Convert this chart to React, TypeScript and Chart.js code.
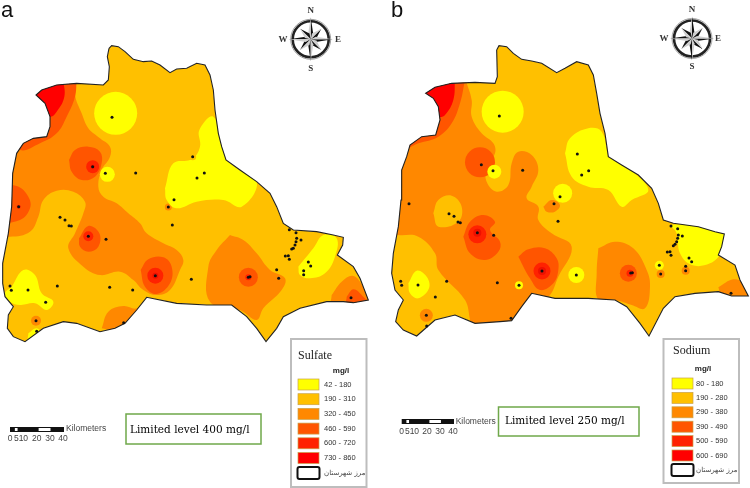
import React, { useEffect, useRef } from "react";
import { Chart, registerables } from "chart.js";

type P = number[];

const YELLOW = "#FFFF00", BASE = "#FFC000", ORANGE = "#FF8800", DEEP = "#FF5500", HOT = "#FF2200", RED = "#FF0000";
const classColors = [YELLOW, BASE, ORANGE, DEEP, HOT, RED];

/* ---------- panel a : sulfate ---------- */
const sulfateClasses = ["42 - 180", "190 - 310", "320 - 450", "460 - 590", "600 - 720", "730 - 860"];
const aBoundary: P[] = [[327,145],[335,137],[355,140],[375,155],[400,178],[430,185],[455,183],[480,195],[510,218],[530,207],[560,205],[590,190],[615,195],[630,225],[640,270],[645,330],[655,400],[665,440],[678,480],[720,510],[770,545],[810,580],[830,620],[850,670],[880,690],[950,695],[1000,705],[1030,712],[1028,735],[1012,765],[1060,800],[1080,835],[1105,900],[1060,908],[1030,905],[980,905],[900,925],[850,950],[830,985],[798,1025],[770,985],[740,950],[695,915],[620,915],[530,910],[440,892],[410,930],[375,970],[345,985],[300,995],[230,970],[190,965],[130,985],[75,1025],[40,1010],[22,985],[25,945],[40,920],[15,890],[8,850],[8,790],[25,700],[35,620],[38,520],[50,460],[70,430],[100,415],[140,410],[150,380],[150,350],[135,310],[108,285],[125,270],[170,255],[230,250],[310,255],[325,240],[328,200],[322,170]];
const aOrangeMain: P[] = [[228,240],[225,285],[245,340],[265,385],[300,415],[330,440],[330,470],[305,510],[295,560],[310,590],[350,610],[385,640],[420,670],[440,700],[490,730],[530,750],[550,780],[540,810],[510,870],[470,885],[430,870],[400,840],[360,815],[300,825],[250,800],[205,745],[225,700],[250,640],[255,605],[220,575],[170,572],[130,600],[115,650],[90,695],[30,710],[-20,700],[-20,400],[100,300]];
const aOrangeSE: P[] = [[690,705],[730,720],[770,760],[810,810],[855,835],[845,870],[790,925],[770,960],[720,930],[630,905],[625,800],[650,750]];
const aOrangeS: P[] = [[305,985],[325,935],[370,918],[410,925],[440,895],[400,1000]];
const aOrangeTip: P[] = [[995,885],[1025,845],[1060,828],[1090,860],[1125,915],[995,930]];
const aDeepNW: P[] = [[230,240],[225,290],[200,350],[170,400],[120,430],[60,450],[30,400],[60,240]];
const aRedNW: P[] = [[190,240],[193,290],[170,335],[150,350],[85,320],[70,240]];
const aDeepHot1: P[] = [[207,480],[225,450],[265,440],[300,455],[305,490],[285,530],[245,540],[215,515]];
const aDeepHot2: P[] = [[237,715],[265,678],[298,700],[295,740],[265,755],[240,740]];
const aDeepHot3: P[] = [[422,810],[445,778],[490,772],[515,800],[510,850],[470,882],[435,860]];
const aDeepW: P[] = [[-10,560],[50,558],[85,590],[90,625],[60,660],[-10,660]];
const aDeepTip: P[] = [[1040,890],[1060,868],[1085,885],[1105,915],[1040,918]];
const aYellowNE: P[] = [[495,565],[520,490],[575,478],[600,440],[598,390],[640,350],[670,440],[690,490],[770,545],[725,620],[670,600],[590,605],[530,625],[500,600]];
const aYellowE: P[] = [[895,800],[940,745],[970,705],[1010,715],[1005,770],[975,820],[930,835],[900,825]];
const aYellowSW: P[] = [[35,860],[70,810],[105,825],[125,880],[160,905],[140,930],[105,910],[60,915],[30,905],[15,880]];
const aYellowS: P[] = [[85,1000],[110,985],[125,1005],[85,1025]];
const aDiscsOrange: P[] = [[108,962,5],[505,621,3.5]];
const aDiscsBase: P[] = [[578,470,3.5]];
const aDiscsYellow: P[] = [[347,340,21.5],[322,523,7.5]];
const aDiscsDeep: P[] = [[745,832,9.5]];
const aDiscsHot: P[] = [[278,500,6.5],[265,709,5],[466,827,8],[745,832,3],[56,620,2]];
const aDiscsRed: P[] = [[466,827,3],[278,500,2]];
const aDots: P[] = [[336,352],[578,470],[613,519],[591,534],[407,519],[316,520],[278,500],[522,599],[505,621],[517,675],[56,620],[180,652],[195,660],[207,677],[214,678],[265,709],[318,718],[868,689],[888,698],[903,720],[890,715],[888,725],[885,735],[880,745],[875,747],[856,768],[865,767],[868,778],[925,786],[932,798],[911,812],[911,824],[830,809],[836,835],[750,830],[745,832],[574,838],[466,827],[30,858],[34,871],[84,870],[172,858],[329,862],[398,870],[137,907],[108,962],[110,994],[371,968],[1053,893]];

/* ---------- panel b : sodium ---------- */
const sodiumClasses = ["80 - 180", "190 - 280", "290 - 380", "390 - 490", "500 - 590", "600 - 690"];
const bBoundary: P[] = [[365,150],[372,137],[395,140],[415,160],[440,178],[470,183],[500,190],[545,218],[570,205],[605,185],[640,195],[655,225],[665,280],[675,340],[690,400],[700,470],[740,495],[790,525],[830,565],[850,610],[865,660],[895,670],[970,680],[1020,695],[1048,702],[1040,740],[1030,765],[1080,795],[1095,840],[1120,888],[1070,888],[1030,875],[960,880],[900,890],[865,925],[822,1008],[795,970],[755,920],[720,900],[640,895],[540,895],[470,880],[440,920],[410,962],[375,965],[300,970],[240,945],[180,960],[125,1008],[85,990],[62,965],[70,930],[85,900],[60,870],[50,820],[55,760],[70,680],[78,600],[80,510],[95,470],[105,435],[140,410],[182,405],[195,360],[190,320],[175,295],[152,280],[180,262],[230,250],[300,247],[360,250],[367,230]];
const bOrangeMain: P[] = [[272,240],[290,300],[290,350],[320,400],[355,430],[360,460],[335,500],[335,545],[365,575],[400,555],[410,490],[430,455],[470,465],[490,510],[470,560],[455,595],[490,620],[490,660],[530,700],[590,740],[550,830],[520,890],[480,895],[410,975],[300,980],[270,900],[190,810],[180,760],[130,710],[70,705],[30,700],[30,400],[140,240]];
const bBaseHole: P[] = [[175,640],[190,600],[230,587],[260,620],[250,665],[190,680]];
const bOrangeSE: P[] = [[670,745],[720,725],[775,745],[815,810],[825,860],[810,925],[770,915],[720,900],[670,900],[665,820]];
const bOrangeTip: P[] = [[1030,862],[1075,838],[1105,850],[1135,900],[1045,900]];
const bOrangeMid: P[] = [[505,620],[530,600],[555,615],[540,635],[515,635]];
const bDeepNW: P[] = [[270,240],[255,310],[230,370],[190,410],[130,430],[70,450],[60,300],[110,240]];
const bRedNW: P[] = [[240,240],[235,300],[210,345],[190,350],[130,310],[115,240]];
const bDeepHot2: P[] = [[265,710],[285,665],[325,645],[360,665],[345,690],[375,725],[370,755],[330,780],[285,760]];
const bDeepHot3: P[] = [[430,770],[460,748],[510,745],[545,775],[550,810],[535,850],[495,870],[465,835]];
const bYellowNE: P[] = [[570,460],[585,415],[640,385],[680,395],[705,470],[760,505],[820,570],[770,600],[740,620],[700,570],[640,560],[590,530]];
const bYellowE: P[] = [[885,675],[970,670],[1055,695],[1040,755],[1005,790],[950,795],[915,760],[905,700]];
const bYellowSW: P[] = [[100,850],[125,812],[155,830],[162,865],[130,895],[105,880]];
const bDiscsOrange: P[] = [[154,946,6.5],[857,822,4],[932,812,4]];
const bDiscsYellow: P[] = [[383,335,21],[358,515,7],[563,580,9.5],[604,825,8],[853,796,4.5],[432,856,4]];
const bDiscsDeep: P[] = [[315,487,15],[760,820,8.5]];
const bDiscsHot: P[] = [[307,703,9],[501,813,8.5],[765,820,3.5]];
const bDiscsRed: P[] = [[307,698,4],[501,813,4]];
const bDots: P[] = [[373,348],[607,462],[641,512],[620,525],[443,511],[354,512],[319,494],[555,590],[537,611],[549,664],[102,611],[222,641],[237,649],[249,666],[256,668],[307,698],[356,706],[888,678],[908,686],[922,708],[910,705],[908,715],[905,725],[900,733],[895,737],[877,756],[885,755],[888,766],[942,774],[950,785],[932,799],[932,812],[853,796],[857,822],[772,818],[767,819],[604,825],[501,813],[77,844],[80,856],[129,855],[215,844],[367,848],[432,856],[181,891],[154,946],[155,978],[408,955],[1068,880]];

const scaleLabels = ["0", "510", "20", "30", "40"];
const boundaryLabel = "مرز شهرستان";

const poly = (pts: P[], color: string, smooth = true) => ({
  type: "scatter", data: [...pts, pts[0]].map(([x, y]) => ({ x, y })), showLine: true, fill: "shape",
  backgroundColor: color, borderColor: "transparent", borderWidth: 0, pointRadius: 0,
  tension: smooth ? 0.4 : 0, mapClip: true,
});
const discs = (pts: P[], color: string) => ({
  type: "bubble", data: pts.map(([x, y, r]) => ({ x, y, r })),
  backgroundColor: color, borderWidth: 0, mapClip: true,
});

const panels = [
  {
    letter: "a", letterX: 1, boundary: aBoundary, dots: aDots, title: "Sulfate", classes: sulfateClasses,
    limit: "Limited level 400 mg/l",
    layers: [
      poly(aBoundary, BASE, false), poly(aOrangeMain, ORANGE), poly(aOrangeSE, ORANGE), poly(aOrangeS, ORANGE), poly(aOrangeTip, ORANGE),
      discs(aDiscsOrange, ORANGE), poly(aDeepNW, DEEP), poly(aRedNW, RED), poly(aDeepHot1, DEEP), poly(aDeepHot2, DEEP), poly(aDeepHot3, DEEP),
      poly(aDeepW, DEEP), poly(aDeepTip, DEEP), discs(aDiscsDeep, DEEP), discs(aDiscsHot, HOT), discs(aDiscsRed, "#EE1100"),
      poly(aYellowNE, YELLOW), poly(aYellowE, YELLOW), poly(aYellowSW, YELLOW), poly(aYellowS, YELLOW), discs(aDiscsYellow, YELLOW), discs(aDiscsBase, BASE),
    ],
    compass: { cx: 310.7, cy: 39.3, n: 11, s: 69, w: 283, e: 338 },
    legend: { x0: 291, y0: 339, x1: 366.5, y1: 487, titleX: 298, titleY: 356, unitX: 341, unitY: 371, swX: 298, swW: 21, swY: 379, swH: 11, step: 14.7, labX: 324, keyY: 467, keyH: 12 },
    bar: { x0: 10, x1: 64, y: 427, kmX: 66, kmY: 429, numY: 439, centers: [10, 21, 36.7, 50, 63] },
    box: { x0: 126, y0: 414, x1: 261, y1: 444, textX: 130, textY: 430 },
  },
  {
    letter: "b", letterX: 16, boundary: bBoundary, dots: bDots, title: "Sodium", classes: sodiumClasses,
    limit: "Limited level 250 mg/l",
    layers: [
      poly(bBoundary, BASE, false), poly(bOrangeMain, ORANGE), poly(bBaseHole, BASE), poly(bOrangeSE, ORANGE), poly(bOrangeTip, ORANGE), poly(bOrangeMid, ORANGE),
      discs(bDiscsOrange, ORANGE), poly(bDeepNW, DEEP), poly(bRedNW, RED), poly(bDeepHot2, DEEP), poly(bDeepHot3, DEEP), discs(bDiscsDeep, DEEP),
      discs(bDiscsHot, HOT), discs(bDiscsRed, "#EE1100"), poly(bYellowNE, YELLOW), poly(bYellowE, YELLOW), poly(bYellowSW, YELLOW), discs(bDiscsYellow, YELLOW),
    ],
    compass: { cx: 317, cy: 38.5, n: 10, s: 67, w: 289, e: 343 },
    legend: { x0: 288.5, y0: 339, x1: 364, y1: 483, titleX: 298, titleY: 351, unitX: 328, unitY: 369, swX: 297, swW: 21, swY: 378, swH: 11, step: 14.4, labX: 321, keyY: 464, keyH: 12 },
    bar: { x0: 26.7, x1: 79, y: 419, kmX: 80.7, kmY: 422, numY: 432, centers: [26.7, 37, 52, 65, 78] },
    box: { x0: 123.5, y0: 407, x1: 264, y1: 436, textX: 130, textY: 421.7 },
  },
];

const mapClip = {
  id: "mapClip",
  beforeDatasetDraw(chart: any, args: any, opts: any) {
    if (!opts.boundary || !chart.data.datasets[args.index].mapClip) return;
    const { ctx, scales } = chart;
    ctx.save();
    ctx.beginPath();
    opts.boundary.forEach(([x, y]: P, i: number) => {
      const px = scales.x.getPixelForValue(x), py = scales.y.getPixelForValue(y);
      i ? ctx.lineTo(px, py) : ctx.moveTo(px, py);
    });
    ctx.closePath();
    ctx.clip();
  },
  afterDatasetDraw(chart: any, args: any, opts: any) {
    if (opts.boundary && chart.data.datasets[args.index].mapClip) chart.ctx.restore();
  },
};

const text = (c: any, s: string, x: number, y: number, font: string, color = "#222", align = "left") => {
  c.font = font; c.fillStyle = color; c.textAlign = align; c.textBaseline = "middle"; c.fillText(s, x, y);
};

const furniture = {
  id: "furniture",
  afterDraw(chart: any, _a: any, opts: any) {
    const p = opts.panel;
    if (!p) return;
    const c = chart.ctx;
    c.save();
    // panel letter
    c.font = "22px 'Liberation Sans'"; c.fillStyle = "#111"; c.textAlign = "left"; c.textBaseline = "alphabetic";
    c.fillText(p.letter, p.letterX, 17);

    // compass
    const m = p.compass;
    c.strokeStyle = "#222"; c.lineWidth = 2.6;
    c.beginPath(); c.arc(m.cx, m.cy, 18, 0, Math.PI * 2); c.stroke();
    c.strokeStyle = "#888"; c.lineWidth = 0.8;
    c.beginPath(); c.arc(m.cx, m.cy, 20, 0, Math.PI * 2); c.stroke();
    for (let k = 0; k < 8; k++) {
      const main = k % 2 === 0, len = main ? 22 : 15, side = main ? 2.6 : 3.2;
      const a = (k * Math.PI) / 4 - Math.PI / 2;
      const ux = Math.cos(a), uy = Math.sin(a), vx = -uy, vy = ux;
      c.fillStyle = "#111";
      c.beginPath(); c.moveTo(m.cx, m.cy); c.lineTo(m.cx + ux * len, m.cy + uy * len);
      c.lineTo(m.cx + ux * 5 + vx * side, m.cy + uy * 5 + vy * side); c.closePath(); c.fill();
      c.fillStyle = "#cfcfcf";
      c.beginPath(); c.moveTo(m.cx, m.cy); c.lineTo(m.cx + ux * len, m.cy + uy * len);
      c.lineTo(m.cx + ux * 5 - vx * side, m.cy + uy * 5 - vy * side); c.closePath(); c.fill();
    }
    const cf = "bold 9px 'Liberation Serif'";
    text(c, "N", m.cx, m.n, cf, "#333", "center");
    text(c, "S", m.cx, m.s, cf, "#333", "center");
    text(c, "W", m.w, m.cy, cf, "#333", "center");
    text(c, "E", m.e, m.cy, cf, "#333", "center");

    // legend
    const l = p.legend;
    c.strokeStyle = "#bdbdbd"; c.lineWidth = 2;
    c.strokeRect(l.x0, l.y0, l.x1 - l.x0, l.y1 - l.y0);
    text(c, p.title, l.titleX, l.titleY, "12px 'Liberation Serif'", "#222");
    text(c, "mg/l", l.unitX, l.unitY, "bold 8px 'Liberation Sans'", "#222", "center");
    p.classes.forEach((lab: string, i: number) => {
      const y = l.swY + i * l.step;
      c.fillStyle = classColors[i]; c.fillRect(l.swX, y, l.swW, l.swH);
      c.strokeStyle = "#c9a24a"; c.lineWidth = 0.7; c.strokeRect(l.swX, y, l.swW, l.swH);
      text(c, lab, l.labX, y + l.swH / 2, "7.5px 'Liberation Sans'", "#333");
    });
    c.strokeStyle = "#111"; c.lineWidth = 2;
    c.beginPath(); c.roundRect(l.swX - 0.5, l.keyY, l.swW + 1, l.keyH, 2); c.stroke();
    c.direction = "rtl";
    text(c, boundaryLabel, l.labX, l.keyY + l.keyH / 2, "7px 'DejaVu Sans'", "#444", "left");
    c.direction = "ltr";

    // scale bar
    const b = p.bar, w = b.x1 - b.x0;
    c.fillStyle = "#111"; c.fillRect(b.x0, b.y, w, 5);
    c.fillStyle = "#fff";
    c.fillRect(b.x0 + w * 0.09, b.y + 1, w * 0.05, 3);
    c.fillRect(b.x0 + w * 0.53, b.y + 1, w * 0.22, 3);
    text(c, "Kilometers", b.kmX, b.kmY, "8.5px 'Liberation Sans'", "#444");
    scaleLabels.forEach((s: string, i: number) => text(c, s, b.centers[i], b.numY, "8.5px 'Liberation Sans'", "#444", "center"));

    // limit box
    const q = p.box;
    c.strokeStyle = "#6FA84A"; c.lineWidth = 1.5;
    c.strokeRect(q.x0, q.y0, q.x1 - q.x0, q.y1 - q.y0);
    text(c, p.limit, q.textX, q.textY, "10.5px 'DejaVu Serif'", "#000");
    c.restore();
  },
};

Chart.register(mapClip, furniture, ...registerables);

function MapPanel({ panel }: { panel: any }) {
  const ref = useRef<HTMLCanvasElement>(null);
  useEffect(() => {
    const dotSet = {
      type: "scatter", data: panel.dots.map(([x, y]: P) => ({ x, y })), backgroundColor: "#111", borderWidth: 0, pointRadius: 1.5,
    };
    const outline = {
      type: "scatter", data: [...panel.boundary, panel.boundary[0]].map(([x, y]: P) => ({ x, y })), showLine: true, fill: false,
      borderColor: "#222", borderWidth: 1.1, pointRadius: 0, tension: 0,
    };
    // first dataset is painted last, so the stack is listed top first
    const datasets = [dotSet, outline, ...[...panel.layers].reverse()];
    const chart = new Chart(ref.current as any, {
      type: "scatter",
      data: { datasets } as any,
      options: {
        animation: false, responsive: false, events: [],
        layout: { padding: 0, autoPadding: false },
        scales: {
          x: { type: "linear", min: 0, max: 1125, display: false },
          y: { type: "linear", min: 0, max: 1464, reverse: true, display: false },
        },
        plugins: {
          legend: { display: false }, tooltip: { enabled: false }, title: { display: false },
          mapClip: { boundary: panel.boundary }, furniture: { panel },
        } as any,
      },
    });
    return () => chart.destroy();
  }, [panel]);
  return <canvas ref={ref} width={375} height={488} style={{ display: "block", width: 375, height: 488, filter: "blur(0.45px)" }} />;
}

export default function App() {
  return (
    <div style={{ position: "absolute", left: 0, top: 0, width: 750, height: 488, display: "flex", background: "#fff", overflow: "hidden" }}>
      {panels.map((p) => <MapPanel key={p.letter} panel={p} />)}
    </div>
  );
}
